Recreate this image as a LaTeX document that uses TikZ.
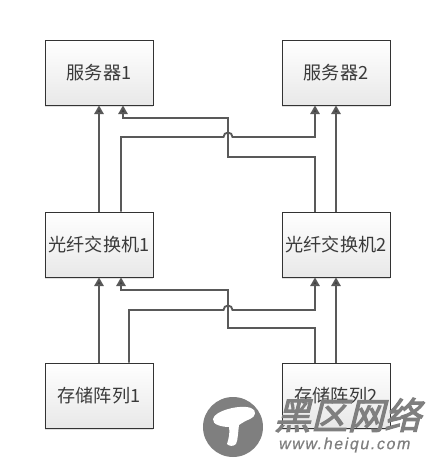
\documentclass[tikz,border=0pt]{standalone}
\usepackage{fontspec}
\usepackage{xcolor}
\usepackage{tikz}
\usetikzlibrary{arrows.meta,calc,shadows}
\setmainfont{Liberation Sans}
\newfontfamily\cjkfont{Noto Sans CJK SC}
\newfontfamily\markfont[FakeBold=3,FakeSlant=0.25]{Noto Sans CJK SC}
\newfontfamily\urlfont[FakeBold=0.6,FakeSlant=0.2,LetterSpace=10]{Liberation Sans}
\definecolor{LinkGray}{HTML}{595959}
\definecolor{TipGray}{HTML}{404040}
\definecolor{TextGray}{HTML}{3A3A3A}
\definecolor{MarkGray}{HTML}{7F7F7F}

\begin{document}
\begin{tikzpicture}[
        x=0.75pt,
        y=-0.75pt,
        box/.style={
            draw=black!80,
            line width=0.6pt,
            top color=white,
            bottom color=black!9,
            minimum width=81pt,
            minimum height=48.75pt,
            inner sep=0pt,
            text=TextGray,
            font=\fontsize{13.6}{16}\cjkfont,
            drop shadow={shadow xshift=0pt, shadow yshift=-1.2pt, opacity=0.12, fill=black}
        },
        link/.style={line width=1.4pt, draw=LinkGray, line join=miter},
        arrow/.style={link, -{Triangle[width=7pt,length=6.5pt,fill=TipGray]}},
        hoparc/.style={start angle=180, end angle=360, radius=4.5}
    ]
        \useasboundingbox (0,0) rectangle (435,462);

        \node[box] (serv1) at (99,72.5) {服务器1};
        \node[box] (serv2) at (336,72.5) {服务器2};
        \node[box] (fc1) at (99,244.5) {光纤交换机1};
        \node[box] (fc2) at (336,244.5) {光纤交换机2};
        \node[box] (disk1) at (99,395.5) {存储阵列1};
        \node[box] (disk2) at (336,395.5) {存储阵列2};

        \draw[arrow] (fc1) -- (serv1);
        \draw[arrow] (fc2) -- (serv2);
        \draw[arrow] (disk1) -- (fc1);
        \draw[arrow] (disk2) -- (fc2);

        % upper crossing
        \coordinate (hopa) at (223.5,137);
        \coordinate (hopb) at (223.5,310);
        \coordinate (turna) at (228,118);
        \coordinate (turnb) at (228,290);
        \draw[arrow] ($(fc1.north)+(22,0)$) |- (hopa)
            arc[hoparc] -| ($(serv2.south)+(-21,0)$);
        \draw[arrow] ($(fc2.north)+(-21,0)$) |- (228,157) -- (turna)
            -| ($(serv1.south)+(24,0)$);

        % lower crossing
        \draw[arrow] ($(disk1.north)+(30,0)$) |- (hopb)
            arc[hoparc] -| ($(fc2.south)+(-21,0)$);
        \draw[arrow] ($(disk2.north)+(-21,0)$) |- (228,328) -- (turnb)
            -| ($(fc1.south)+(22,0)$);

        % site mark
        \node[circle, fill=MarkGray, minimum size=45pt, inner sep=0pt] (logo) at (233,427) {};
        \fill[white] (213,419) .. controls (214,411) and (240,404) .. (251,408)
            .. controls (257,410) and (256,417) .. (250,419)
            .. controls (245,421) and (242,423) .. (239,425)
            .. controls (238,432) and (238,440) .. (236,444)
            .. controls (233,447) and (229,446) .. (227,444)
            .. controls (229,438) and (230,432) .. (229,427)
            .. controls (223,427) and (212,425) .. (213,419) -- cycle;
        \node[anchor=west, inner sep=0pt, text=MarkGray, font=\fontsize{27.5}{30}\markfont] (markname) at (274,415) {黑区网络};
        \node[anchor=west, inner sep=0pt, text=MarkGray, font=\fontsize{12}{14}\urlfont] (markurl) at (278,445) {www.heiqu.com};
    \end{tikzpicture}
\end{document}
